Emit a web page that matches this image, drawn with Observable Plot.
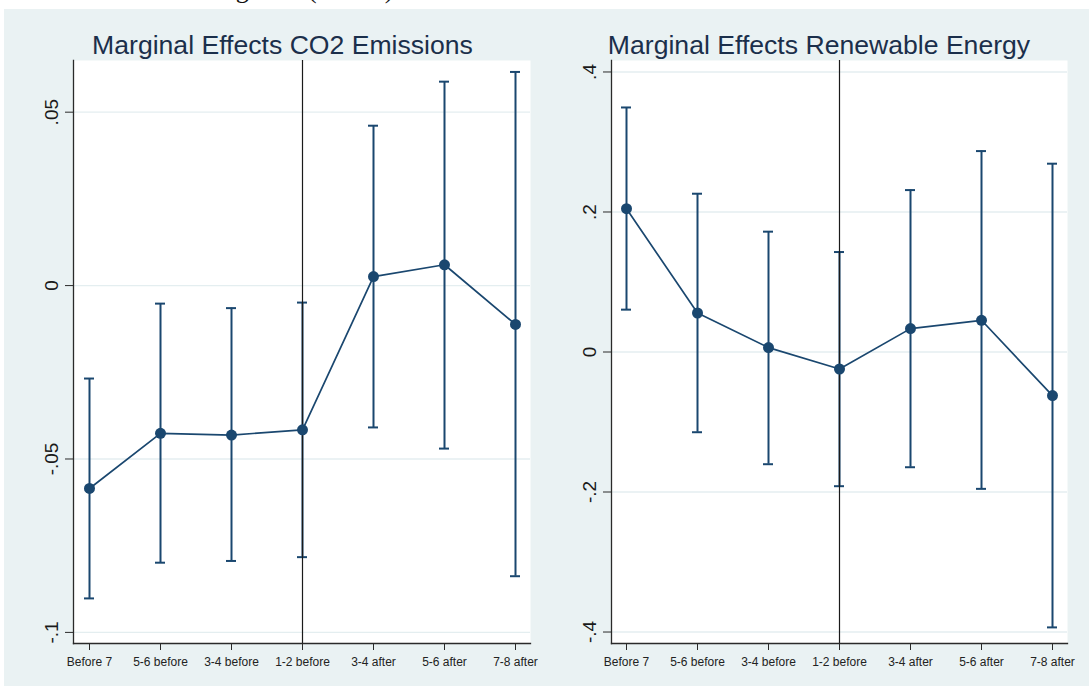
<!DOCTYPE html>
<html>
<head>
<meta charset="utf-8">
<script src="https://cdn.jsdelivr.net/npm/d3@7"></script>
<script src="https://cdn.jsdelivr.net/npm/@observablehq/plot@0.6"></script>
<style>
  html, body { margin: 0; padding: 0; background: #fff; }
  #page { position: relative; width: 1089px; height: 686px; overflow: hidden;
          font-family: "Liberation Sans", Arial, sans-serif; }
  #head { position: absolute; left: 0; top: 0; width: 1089px; height: 9px; overflow: hidden; background: #fff; }
  #head span { position: absolute; left: 214px; top: -23px; font: 26px/26px "Liberation Serif", "Times New Roman", serif;
               color: #111; white-space: nowrap; }
  #region { position: absolute; left: 4px; top: 9px; right: 0; bottom: 0; background: #eaf2f3; }
  .title { position: absolute; top: 32px; font-size: 26.6px; line-height: 26px; color: #1b2f4b;
           text-align: center; white-space: nowrap; }
  .panel { position: absolute; top: 9px; }
  .panel svg { overflow: visible; }
</style>
</head>
<body>
<div id="page">
  <div id="head"><span>Figure 4 (Cont'd)</span></div>
  <div id="region"></div>
  <div class="title" style="left:0;width:565px">Marginal Effects CO2 Emissions</div>
  <div class="title" style="left:560px;width:518px">Marginal Effects Renewable Energy</div>
  <div class="panel" id="left" style="left:0"></div>
  <div class="panel" id="right" style="left:560px"></div>
</div>
<script>
// Periods relative to the event
const categories = ["Before 7", "5-6 before", "3-4 before", "1-2 before", "3-4 after", "5-6 after", "7-8 after"];
const referencePeriod = "1-2 before";

// Marginal effects on CO2 emissions: point estimate and 95% CI bounds
const co2Est = [-0.0585, -0.0426, -0.0431, -0.0416, 0.0026, 0.0060, -0.0112];
const co2Lo  = [-0.0902, -0.0799, -0.0794, -0.0783, -0.0409, -0.0470, -0.0838];
const co2Hi  = [-0.0268, -0.0052, -0.0065, -0.0049, 0.0461, 0.0588, 0.0616];

// Marginal effects on renewable energy
const renEst = [0.2047, 0.0557, 0.0063, -0.0243, 0.0334, 0.0453, -0.0623];
const renLo  = [0.0605, -0.1146, -0.1603, -0.1917, -0.1646, -0.1955, -0.3934];
const renHi  = [0.3493, 0.2261, 0.1719, 0.1428, 0.2313, 0.2870, 0.2690];

// Y tick values
const co2Ticks = [-0.1, -0.05, 0, 0.05];
const renTicks = [-0.4, -0.2, 0, 0.2, 0.4];

const navy = "#1a476f";
const axisInk = "#2a2a2a";

// Stata-style labels: drop the leading zero (".05", "-.2")
const fmt = d => d === 0 ? "0" : String(d).replace("0.", ".");

function panel({est, lo, hi, yDomain, yTicks, width, marginLeft, marginRight}) {
  const rows = categories.map((period, i) => ({period, est: est[i], lo: lo[i], hi: hi[i]}));
  const cap = {x1: "period", x2: "period", stroke: navy, strokeWidth: 2, insetLeft: -5, insetRight: -5};
  return Plot.plot({
    width, height: 677,
    marginLeft, marginRight, marginTop: 51, marginBottom: 43,
    style: {background: "transparent", fontFamily: "Liberation Sans, Arial, sans-serif", overflow: "visible"},
    x: {type: "point", domain: categories, padding: 0.186},
    y: {domain: yDomain},
    marks: [
      Plot.frame({fill: "white", stroke: null}),
      Plot.gridY(yTicks, {stroke: "#e4eef0", strokeOpacity: 1, strokeWidth: 1.3}),
      Plot.ruleX(rows, {x: "period", y1: "lo", y2: "hi", stroke: navy, strokeWidth: 2}),
      Plot.ruleY(rows, {...cap, y: "lo"}),
      Plot.ruleY(rows, {...cap, y: "hi"}),
      Plot.ruleX([referencePeriod], {stroke: "#1a1a1a", strokeWidth: 1.2}),
      Plot.line(rows, {x: "period", y: "est", stroke: navy, strokeWidth: 1.7}),
      Plot.dot(rows, {x: "period", y: "est", r: 5.5, fill: navy}),
      Plot.frame({anchor: "left", stroke: axisInk, strokeWidth: 1.3}),
      Plot.frame({anchor: "bottom", stroke: axisInk, strokeWidth: 1.3}),
      Plot.axisY(yTicks, {tickRotate: -90, tickSize: 8, tickPadding: 8, fontSize: 19,
                          tickFormat: fmt, stroke: axisInk, fill: "#1a1a1a", label: null}),
      Plot.axisX({tickSize: 7, tickPadding: 7, fontSize: 12, stroke: axisInk, fill: "#222", label: null})
    ]
  });
}

document.getElementById("left").append(panel({
  est: co2Est, lo: co2Lo, hi: co2Hi,
  yDomain: [-0.1032, 0.0649], yTicks: co2Ticks,
  width: 560, marginLeft: 73, marginRight: 30
}));

document.getElementById("right").append(panel({
  est: renEst, lo: renLo, hi: renHi,
  yDomain: [-0.4164, 0.4164], yTicks: renTicks,
  width: 529, marginLeft: 51, marginRight: 22
}));
</script>
</body>
</html>
